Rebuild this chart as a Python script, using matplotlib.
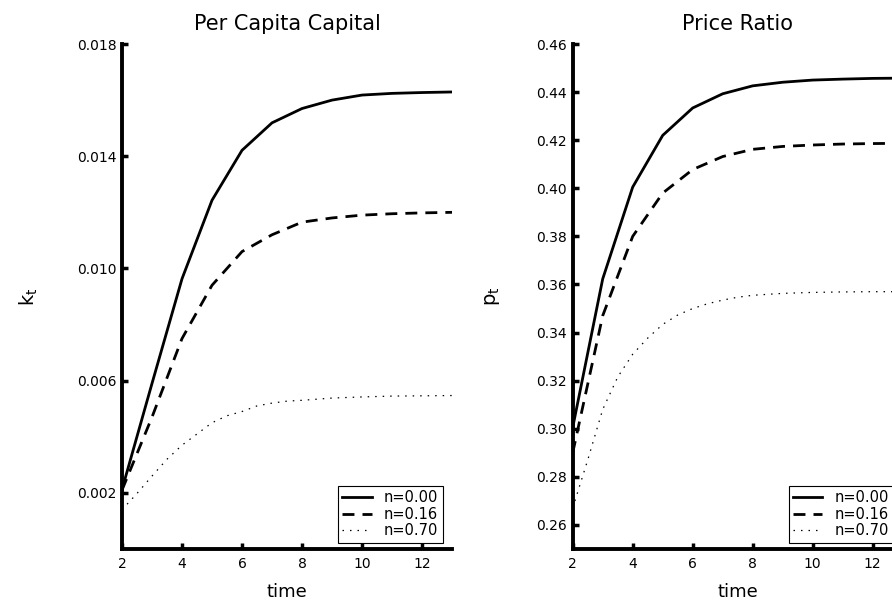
# Per capita capital and price ratio paths
import matplotlib
matplotlib.use('Agg')
import matplotlib.pyplot as plt

# ----------------------------------------------------------------
# Data
time = [2, 3, 4, 5, 6, 7, 8, 9, 10, 11, 12, 13]
time_fine = [2, 2.5, 3, 3.5, 4, 4.5, 5, 5.5, 6, 6.5, 7, 7.5, 8, 9, 10, 11, 12, 13]
labels = ['n=0.00', 'n=0.16', 'n=0.70']

k_n000 = [0.00212, 0.0059, 0.00963, 0.01243, 0.01421, 0.01519, 0.0157,
          0.016, 0.01618, 0.01624, 0.01627, 0.01629]
k_n016 = [0.0021, 0.0047, 0.0075, 0.0094, 0.0106, 0.0112, 0.01165,
          0.0118, 0.0119, 0.01195, 0.01198, 0.0120]
k_n070 = [0.0014, 0.00198, 0.0026, 0.0032, 0.0037, 0.0041, 0.0045, 0.00475,
          0.0049, 0.0051, 0.0052, 0.00527, 0.0053, 0.00538, 0.00542,
          0.00545, 0.00546, 0.00547]

p_n000 = [0.3005, 0.3623, 0.4005, 0.422, 0.4334, 0.4393, 0.4426, 0.4441,
          0.445, 0.4454, 0.4457, 0.4458]
p_n016 = [0.290, 0.347, 0.380, 0.398, 0.4078, 0.4132, 0.4162, 0.4174,
          0.418, 0.4184, 0.4186, 0.4187]
p_n070 = [0.267, 0.287, 0.308, 0.3215, 0.331, 0.3377, 0.3434, 0.3473,
          0.350, 0.352, 0.3535, 0.3547, 0.3555, 0.3563, 0.3567, 0.3569,
          0.357, 0.357]

k_ticks = [0.002, 0.006, 0.010, 0.014, 0.018]
p_ticks = [0.26, 0.28, 0.30, 0.32, 0.34, 0.36, 0.38, 0.40, 0.42, 0.44, 0.46]

plt.rcParams['font.family'] = ['DejaVu Sans']

# ----------------------------------------------------------------
def style_axes(ax, yticks, fmt):
    for s in ['top', 'right']:
        ax.spines[s].set_visible(False)
    for s in ['left', 'bottom']:
        ax.spines[s].set_linewidth(2.8)
    ax.set_xticks([2, 4, 6, 8, 10, 12])
    ax.set_yticks(yticks)
    ax.set_yticklabels([fmt % v for v in yticks])
    ax.tick_params(direction='in', length=4, width=2.5, labelsize=10, pad=6)
    ax.tick_params(axis='y', pad=4)
    ax.set_xlabel('time', fontsize=13)
    ax.xaxis.set_label_coords(0.5, -0.068)

def draw_panel(ax, y0, y1, y2, title, ylabel, ylim, yticks, fmt, ylab_x):
    ax.plot(time, y0, color='black', lw=2, label=labels[0])
    ax.plot(time, y1, color='black', lw=2, linestyle=(0, (4.3, 2.9)), label=labels[1])
    ax.plot(time_fine, y2, color='black', lw=0.9, linestyle=(0, (1.2, 4.8)), label=labels[2])
    ax.set_xlim(2, 13)
    ax.set_ylim(*ylim)
    style_axes(ax, yticks, fmt)
    ax.set_title(title, fontsize=15, pad=10)
    ax.set_ylabel(ylabel, fontsize=14)
    ax.yaxis.set_label_coords(ylab_x, 0.5)
    leg = ax.legend(loc='lower right', bbox_to_anchor=(0.972, 0.0125), borderaxespad=0,
                    fontsize=10.5, handlelength=2.0, handletextpad=0.85, labelspacing=0.1,
                    borderpad=0.3, fancybox=False, framealpha=1)
    leg.get_frame().set_edgecolor('black')
    leg.get_frame().set_linewidth(0.8)

fig = plt.figure(figsize=(8.92, 6.01), dpi=100)
ax1 = fig.add_axes([122 / 892, 52 / 601, 330 / 892, 505 / 601])
ax2 = fig.add_axes([572.7 / 892, 52 / 601, 330 / 892, 505 / 601])

draw_panel(ax1, k_n000, k_n016, k_n070, 'Per Capita Capital', r'$\mathregular{k_t}$',
           (0, 0.018), k_ticks, '%.3f', -0.25)
draw_panel(ax2, p_n000, p_n016, p_n070, 'Price Ratio', r'$\mathregular{p_t}$',
           (0.25, 0.46), p_ticks, '%.2f', -0.215)

fig.savefig('out.png', dpi=100)
